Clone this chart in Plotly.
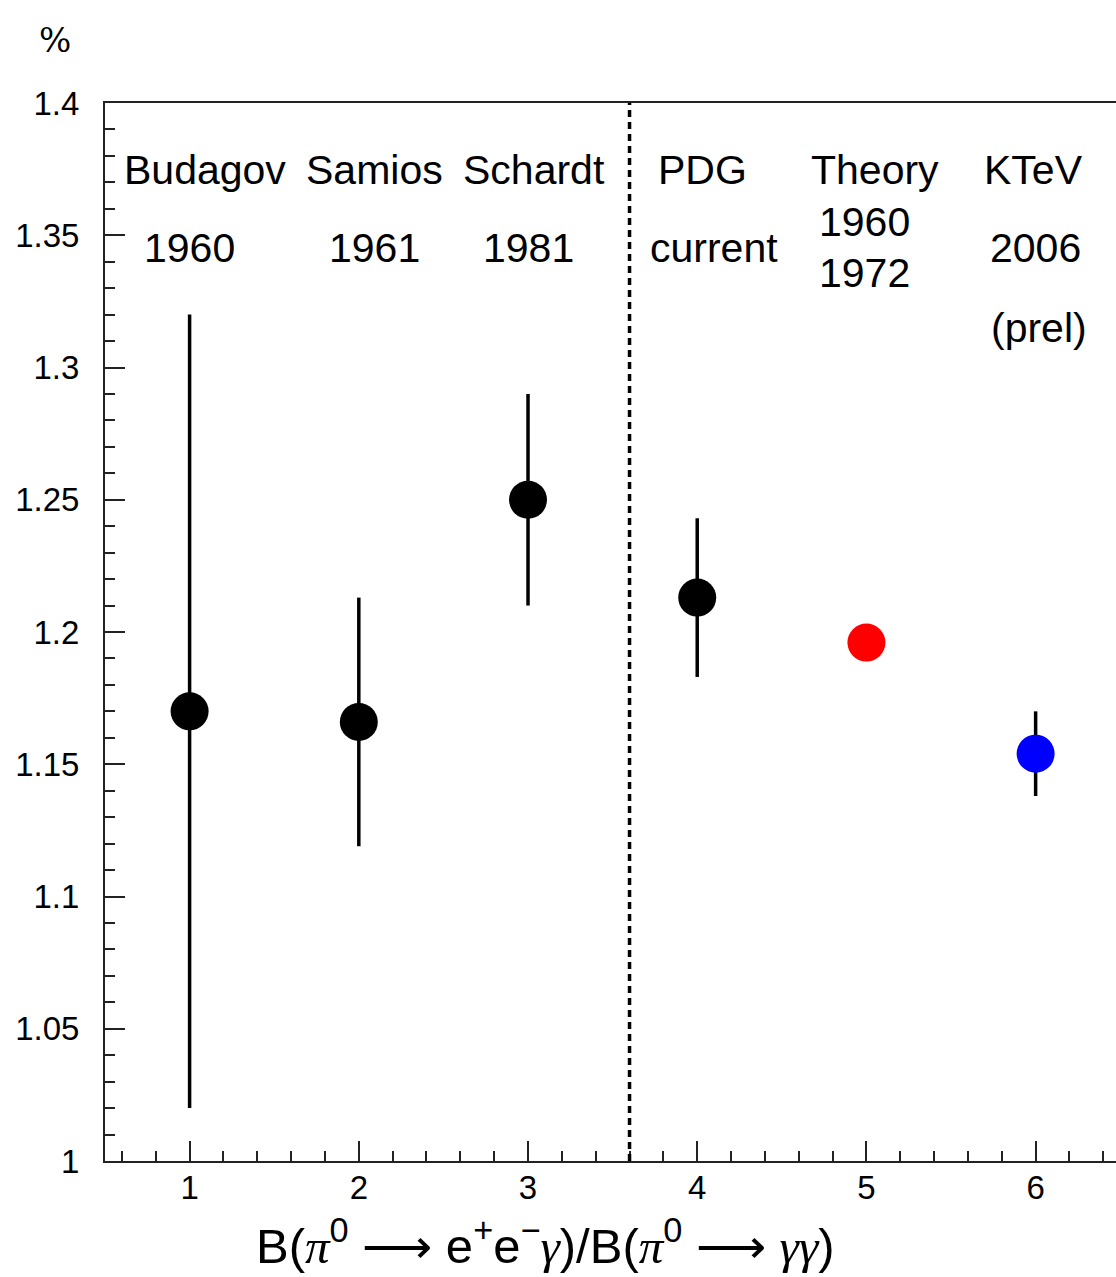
import plotly.graph_objects as go

# Ratio B(pi0 -> e+e-gamma)/B(pi0 -> gamma gamma) in percent
x_pos = [1, 2, 3, 4, 5, 6]
ratio = [1.170, 1.166, 1.250, 1.213, 1.196, 1.154]
ratio_err = [0.150, 0.047, 0.040, 0.030, 0.0, 0.016]
point_colors = ["black", "black", "black", "black", "#ff0000", "#0000ff"]

# Experiment / source labels drawn above the points
label_text = ["Budagov", "1960", "Samios", "1961", "Schardt", "1981",
              "PDG", "current", "Theory", "1960", "1972",
              "KTeV", "2006", "(prel)"]
label_x = [1.09, 1.0, 2.095, 2.095, 3.035, 3.0,
           4.03, 4.10, 5.05, 4.99, 4.99,
           5.99, 6.0, 6.02]
label_y = [1.3747, 1.3452, 1.3747, 1.3452, 1.3747, 1.3452,
           1.3747, 1.3452, 1.3747, 1.355, 1.3357,
           1.3747, 1.3452, 1.315]

y_ticks = [1.0, 1.05, 1.1, 1.15, 1.2, 1.25, 1.3, 1.35, 1.4]
y_ticktext = ["1", "1.05", "1.1", "1.15", "1.2", "1.25", "1.3", "1.35", "1.4"]
x_ticks = [1, 2, 3, 4, 5, 6]
x_ticktext = ["1", "2", "3", "4", "5", "6"]

separator_x = 3.6

FONT = "Liberation Sans, Arial, Helvetica, sans-serif"
SERIF_I = "<span style='font-family:Liberation Serif, serif'><i>{}</i></span>"

fig = go.Figure()
fig.add_trace(go.Scatter(
    x=x_pos, y=ratio, mode="markers",
    marker=dict(size=38, color=point_colors, line=dict(width=0)),
    error_y=dict(type="data", array=ratio_err, visible=True,
                 color="black", thickness=3.5, width=0),
    showlegend=False, hoverinfo="x+y",
))

# Vertical dotted separator between old measurements and current values
fig.add_shape(type="line", xref="x", yref="y",
              x0=separator_x, x1=separator_x, y0=1.0, y1=1.4,
              line=dict(color="black", width=3.5, dash="7px,5px"))

for t, lx, ly in zip(label_text, label_x, label_y):
    fig.add_annotation(x=lx, y=ly, xref="x", yref="y", text=t,
                       showarrow=False, xanchor="center", yanchor="middle",
                       font=dict(family=FONT, size=41, color="black"))

# Axis title and unit
pi = SERIF_I.format("π")
gam = SERIF_I.format("γ")
title_text = (f"B({pi}<sup>0</sup> ⟶ e<sup>+</sup>e<sup>−</sup>{gam})"
              f"/B({pi}<sup>0</sup> ⟶ {gam}{gam})")
fig.add_annotation(
    xref="paper", yref="paper", x=0.436, y=-0.077,
    text=title_text,
    showarrow=False, xanchor="center", yanchor="middle",
    font=dict(family=FONT, size=49, color="black"))
fig.add_annotation(
    xref="paper", yref="paper", x=-0.0495, y=1.0595, text="%",
    showarrow=False, xanchor="center", yanchor="middle",
    font=dict(family="DejaVu Serif, serif", size=34, color="black"))

fig.update_xaxes(
    range=[0.5, 6.475], tickmode="array", tickvals=x_ticks, ticktext=x_ticktext,
    ticks="inside", ticklen=20, tickwidth=2, tickcolor="#222",
    showline=True, linecolor="#222", linewidth=2, mirror=True,
    showgrid=False, zeroline=False,
    minor=dict(dtick=0.2, tick0=0, ticks="inside", ticklen=10, tickwidth=2,
               tickcolor="#222", showgrid=False),
    tickfont=dict(family=FONT, size=33, color="black"),
    ticklabelstandoff=-4,
)
fig.update_yaxes(
    range=[1.0, 1.4], tickmode="array", tickvals=y_ticks, ticktext=y_ticktext,
    ticks="inside", ticklen=20, tickwidth=2, tickcolor="#222",
    showline=True, linecolor="#222", linewidth=2, mirror=False,
    showgrid=False, zeroline=False,
    minor=dict(dtick=0.01, tick0=1.0, ticks="inside", ticklen=10, tickwidth=2,
               tickcolor="#222", showgrid=False),
    tickfont=dict(family=FONT, size=33, color="black"),
    ticklabelstandoff=17,
)

fig.update_layout(
    width=1116, height=1277,
    margin=dict(l=105, r=0, t=103, b=116, pad=0),
    paper_bgcolor="white", plot_bgcolor="white",
    showlegend=False,
)

fig.write_html("out.html")
